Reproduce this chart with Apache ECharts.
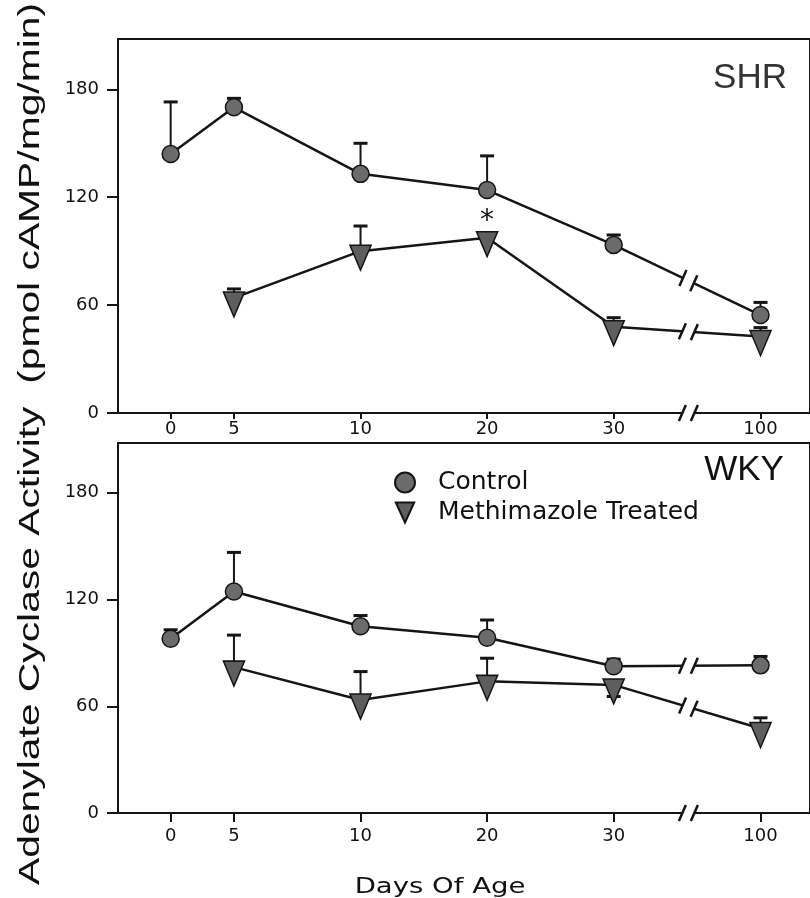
<!DOCTYPE html>
<html>
<head>
<meta charset="utf-8">
<script src="https://cdn.jsdelivr.net/npm/echarts@6/dist/echarts.min.js"></script>
<style>
html, body { margin: 0; padding: 0; background: #fff; }
#container { width: 810px; height: 898px; }
</style>
</head>
<body>
<div id="container"></div>
<script>
var days        = [0, 5, 10, 20, 30, 100];
var treatedDays = [5, 10, 20, 30, 100];

// SHR panel
var shrControl    = [144, 170, 133, 124, 93.5, 54.5];
var shrControlErr = [29, 5, 17, 19, 5.5, 7];
var shrTreated    = [64, 90, 97.5, 48, 42.5];
var shrTreatedErr = [5, 14, 0, 5, 5];
var shrTreatedSig = ['', '', '*', '', ''];

// WKY panel
var wkyControl    = [98, 124.5, 105, 98.5, 82.5, 83];
var wkyControlErr = [5, 22, 6, 10, 4, 5];
var wkyTreated    = [82, 63.5, 74, 72, 47.5];
var wkyTreatedErr = [18, 16, 13, -6.5, 6];

var xTickDays = [0, 5, 10, 20, 30, 100];
var yTicks    = [0, 60, 120, 180];

// broken x axis: day -> slot on the axis (30..100 is cut)
var slotDays = [0, 5, 10, 20, 30, 100];
var slotPos  = [0, 0.5, 1.5, 2.5, 3.5, 4.66];
var breakPos = 4.09;
var xMin = -0.416, xMax = 5.051;

function toAxis(d) {
    for (var i = 1; i < slotDays.length; i++) {
        if (d <= slotDays[i]) {
            var t = (d - slotDays[i - 1]) / (slotDays[i] - slotDays[i - 1]);
            return slotPos[i - 1] + t * (slotPos[i] - slotPos[i - 1]);
        }
    }
    return slotPos[slotPos.length - 1];
}

function points(xs, ys, sig) {
    return xs.map(function (d, i) {
        var p = [toAxis(d), ys[i]];
        if (sig && sig[i]) {
            return {value: p, label: {show: true, formatter: sig[i]}};
        }
        return p;
    });
}

function errPoints(xs, ys, errs) {
    return xs.map(function (d, i) { return [toAxis(d), ys[i], errs[i]]; });
}

function lastSegment(xs, ys) {
    var n = xs.length;
    return [[toAxis(xs[n - 2]), ys[n - 2], toAxis(xs[n - 1]), ys[n - 1]]];
}

var ink = '#151515';
var triPath = 'path://M0,0 L23,0 L11.5,25 Z';

function renderErr(params, api) {
    var err = api.value(2);
    if (!err) return;
    var p = api.coord([api.value(0), api.value(1)]);
    var q = api.coord([api.value(0), api.value(1) + err]);
    return {
        type: 'group',
        children: [
            {type: 'line', shape: {x1: p[0], y1: p[1], x2: q[0], y2: q[1]}, style: {stroke: ink, lineWidth: 2}},
            {type: 'line', shape: {x1: q[0] - 7, y1: q[1], x2: q[0] + 7, y2: q[1]}, style: {stroke: ink, lineWidth: 3}}
        ]
    };
}

function slashGroup(cx, cy, dx, dy) {
    var len = Math.sqrt(dx * dx + dy * dy);
    var ux = dx / len, uy = dy / len;
    var children = [{
        type: 'line',
        shape: {x1: cx - ux * 6, y1: cy - uy * 6, x2: cx + ux * 6, y2: cy + uy * 6},
        style: {stroke: '#fff', lineWidth: 8}
    }];
    [-6, 6].forEach(function (o) {
        var sx = cx + ux * o, sy = cy + uy * o;
        children.push({
            type: 'line',
            shape: {x1: sx - 3.5, y1: sy + 8, x2: sx + 3.5, y2: sy - 8},
            style: {stroke: ink, lineWidth: 2.5}
        });
    });
    return {type: 'group', children: children};
}

function renderLineBreak(params, api) {
    var a = api.coord([api.value(0), api.value(1)]);
    var b = api.coord([api.value(2), api.value(3)]);
    var cx = api.coord([breakPos, 0])[0];
    var t = (cx - a[0]) / (b[0] - a[0]);
    var cy = a[1] + t * (b[1] - a[1]);
    return slashGroup(cx, cy, b[0] - a[0], b[1] - a[1]);
}

function renderAxisBreak(params, api) {
    var c = api.coord([api.value(0), api.value(1)]);
    return slashGroup(c[0], c[1], 1, 0);
}

function xAxisFor(gridIndex, tickLen, margin) {
    var vals = xTickDays.map(toAxis);
    return {
        type: 'value',
        gridIndex: gridIndex,
        min: xMin,
        max: xMax,
        axisLine: {show: true, onZero: false, lineStyle: {color: ink, width: 2}},
        axisTick: {show: true, customValues: vals, length: tickLen, lineStyle: {color: ink, width: 2}},
        axisLabel: {
            customValues: vals,
            margin: margin,
            fontFamily: 'DejaVu Sans',
            fontSize: 18,
            color: '#111',
            formatter: function (v) {
                for (var i = 0; i < slotPos.length; i++) {
                    if (Math.abs(slotPos[i] - v) < 1e-6) return String(slotDays[i]);
                }
                return '';
            }
        },
        splitLine: {show: false}
    };
}

function yAxisFor(gridIndex) {
    return {
        type: 'value',
        gridIndex: gridIndex,
        min: 0,
        max: 208,
        axisLine: {show: true, onZero: false, lineStyle: {color: ink, width: 2}},
        axisTick: {show: true, customValues: yTicks, length: 11, lineStyle: {color: ink, width: 2}},
        axisLabel: {customValues: yTicks, margin: 19, fontFamily: 'DejaVu Sans', fontSize: 18, color: '#111'},
        splitLine: {show: false}
    };
}

function panelSeries(idx, ctrl, ctrlErr, trt, trtErr, sig) {
    return [
        {
            type: 'custom', xAxisIndex: idx, yAxisIndex: idx, z: 1,
            renderItem: renderErr, data: errPoints(days, ctrl, ctrlErr)
        },
        {
            type: 'custom', xAxisIndex: idx, yAxisIndex: idx, z: 1,
            renderItem: renderErr, data: errPoints(treatedDays, trt, trtErr)
        },
        {
            name: 'Control', type: 'line', xAxisIndex: idx, yAxisIndex: idx, z: 2,
            data: points(days, ctrl),
            symbol: 'circle', symbolSize: 17,
            itemStyle: {color: '#6b6b6b', borderColor: ink, borderWidth: 1.5},
            lineStyle: {color: ink, width: 2.5}
        },
        {
            name: 'Methimazole Treated', type: 'line', xAxisIndex: idx, yAxisIndex: idx, z: 2,
            data: points(treatedDays, trt, sig),
            symbol: triPath, symbolSize: [23, 25], symbolOffset: [0, 6.5], symbolKeepAspect: true,
            itemStyle: {color: '#5e5e5e', borderColor: ink, borderWidth: 1.5},
            lineStyle: {color: ink, width: 2.5},
            label: {position: 'inside', offset: [0, -22], fontSize: 28, fontFamily: 'DejaVu Sans', color: '#111'}
        },
        {
            type: 'custom', xAxisIndex: idx, yAxisIndex: idx, z: 3,
            renderItem: renderLineBreak, data: lastSegment(days, ctrl)
        },
        {
            type: 'custom', xAxisIndex: idx, yAxisIndex: idx, z: 3,
            renderItem: renderLineBreak, data: lastSegment(treatedDays, trt)
        },
        {
            type: 'custom', xAxisIndex: idx, yAxisIndex: idx, z: 3,
            renderItem: renderAxisBreak, data: [[breakPos, 0]]
        }
    ];
}

var dom     = document.getElementById('container');
var myChart = echarts.init(dom, null, {renderer: 'canvas'});

var option = {
    backgroundColor: '#fff',
    animation: false,
    grid: [
        {left: 118, right: -5, top: 39, height: 374, show: true, borderColor: ink, borderWidth: 2, backgroundColor: 'transparent'},
        {left: 118, right: -5, top: 443, height: 370, show: true, borderColor: ink, borderWidth: 2, backgroundColor: 'transparent'}
    ],
    xAxis: [xAxisFor(0, 6, 7), xAxisFor(1, 9, 14)],
    yAxis: [yAxisFor(0), yAxisFor(1)],
    legend: {
        orient: 'vertical',
        left: 389,
        top: 465,
        itemWidth: 20,
        itemHeight: 20,
        itemGap: 5,
        selectedMode: false,
        textStyle: {fontFamily: 'DejaVu Sans', fontSize: 25, color: '#111', padding: [0, 0, 0, 18]},
        data: [
            {name: 'Control', icon: 'circle'},
            {name: 'Methimazole Treated', icon: triPath}
        ]
    },
    graphic: [
        {
            type: 'text', x: 31, y: 444, rotation: Math.PI / 2, scaleX: 1.36,
            style: {
                text: 'Adenylate Cyclase Activity  (pmol cAMP/mg/min)',
                fontFamily: 'Liberation Sans', fontSize: 30, fill: '#111',
                align: 'center', verticalAlign: 'middle'
            }
        },
        {
            type: 'text', x: 440, y: 887, scaleX: 1.25,
            style: {
                text: 'Days Of Age', fontFamily: 'DejaVu Sans', fontSize: 22, fill: '#111',
                align: 'center', verticalAlign: 'middle'
            }
        },
        {
            type: 'text', x: 750, y: 78,
            style: {
                text: 'SHR', fontFamily: 'Liberation Sans', fontSize: 35, fill: '#333',
                align: 'center', verticalAlign: 'middle'
            }
        },
        {
            type: 'text', x: 744, y: 470,
            style: {
                text: 'WKY', fontFamily: 'Liberation Sans', fontSize: 35, fill: '#111',
                align: 'center', verticalAlign: 'middle'
            }
        }
    ],
    series: [].concat(
        panelSeries(0, shrControl, shrControlErr, shrTreated, shrTreatedErr, shrTreatedSig),
        panelSeries(1, wkyControl, wkyControlErr, wkyTreated, wkyTreatedErr, null)
    )
};

myChart.setOption(option);
</script>
</body>
</html>
